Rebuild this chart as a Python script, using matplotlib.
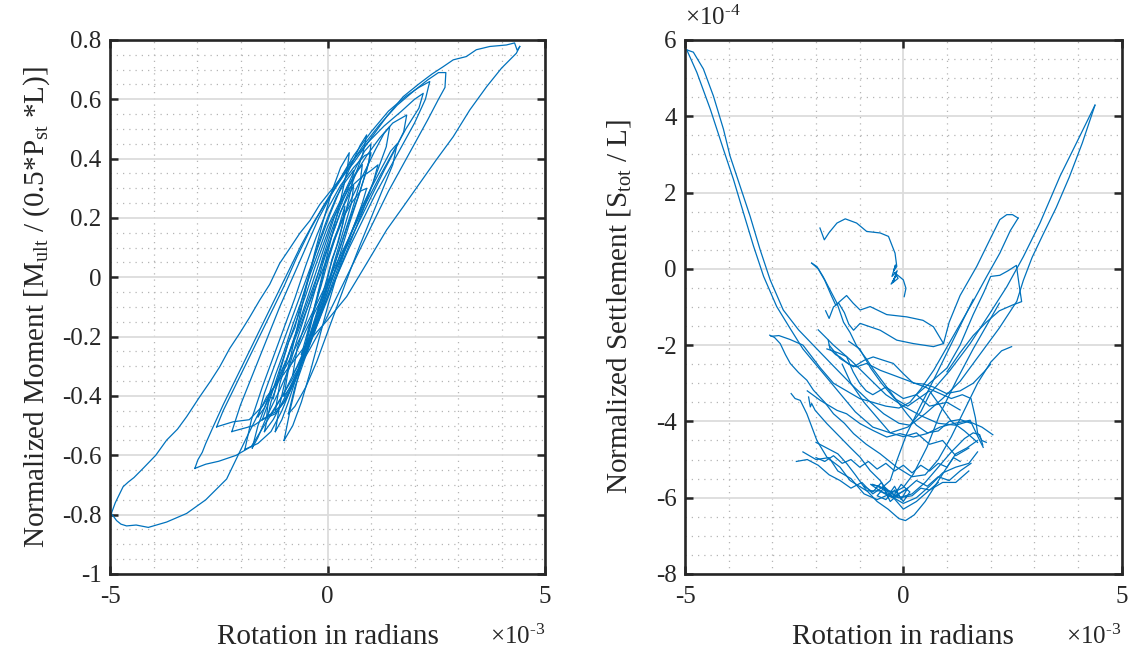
import matplotlib
matplotlib.use("Agg")
import matplotlib.pyplot as plt

# rotation values are in units of 1e-3 rad, settlement values in units of 1e-4
BLUE = "#0072BD"

# ---------------- left plot: normalized moment vs rotation ----------------
rot_outer_up = [-4.97, -4.88, -4.70, -4.58, -4.45, -4.24, -3.95, -3.70, -3.45, -3.24, -2.94, -2.70, -2.48,
                -2.25, -2.02, -1.80, -1.56, -1.33, -1.10, -0.87, -0.64, -0.40, -0.18, 0.21, 0.59, 0.97, 1.36,
                1.74, 2.12, 2.40, 2.66, 2.89, 3.19, 3.42, 3.73, 4.11, 4.30, 4.36, 4.42]
mom_outer_up = [-0.796, -0.76, -0.706, -0.690, -0.675, -0.644, -0.600, -0.549, -0.512, -0.470, -0.403, -0.352,
                -0.302, -0.240, -0.189, -0.137, -0.077, -0.024, 0.047, 0.097, 0.148, 0.192, 0.245, 0.317, 0.384,
                0.463, 0.542, 0.609, 0.654, 0.685, 0.710, 0.733, 0.744, 0.767, 0.778, 0.783, 0.790, 0.765, 0.778]

rot_outer_dn = [4.42, 4.34, 4.00, 3.66, 3.27, 2.89, 2.50, 2.12, 1.74, 1.36, 0.90, 0.44, 0.00, -0.41, -0.94,
                -1.40, -1.86, -2.32, -2.80, -3.24, -3.70, -4.12, -4.40, -4.62, -4.75, -4.85, -4.97]
mom_outer_dn = [0.778, 0.755, 0.705, 0.643, 0.564, 0.474, 0.396, 0.317, 0.238, 0.160, 0.047, -0.065, -0.144,
                -0.211, -0.313, -0.403, -0.540, -0.680, -0.750, -0.796, -0.825, -0.843, -0.835, -0.838, -0.832,
                -0.820, -0.796]

rot_loop2 = [-3.05, -2.98, -2.94, -2.88, -2.80, -2.63, -2.40, -2.10, -1.80, -1.50, -1.20, -0.90, -0.60, -0.30,
             0.00, 0.40, 0.80, 1.20, 1.60, 2.00, 2.30, 2.55, 2.72, 2.70, 2.55, 2.30, 2.00, 1.70, 1.40, 1.10,
             0.80, 0.50, 0.20, -0.10, -0.40, -0.80, -1.20, -1.50, -1.75, -2.10, -2.50, -2.80, -3.05]
mom_loop2 = [-0.644, -0.615, -0.605, -0.590, -0.560, -0.504, -0.430, -0.340, -0.250, -0.160, -0.070, 0.020,
             0.110, 0.190, 0.260, 0.350, 0.440, 0.515, 0.580, 0.630, 0.665, 0.690, 0.690, 0.640, 0.600, 0.530,
             0.450, 0.370, 0.290, 0.200, 0.110, 0.020, -0.070, -0.160, -0.240, -0.340, -0.440, -0.510, -0.570,
             -0.600, -0.620, -0.630, -0.644]

rot_loop3 = [-2.55, -2.40, -2.20, -1.90, -1.60, -1.30, -1.00, -0.70, -0.40, -0.10, 0.20, 0.50, 0.90, 1.30,
             1.70, 2.00, 2.20, 2.10, 1.80, 1.50, 1.20, 0.90, 0.60, 0.30, 0.00, -0.30, -0.60, -0.90, -1.20,
             -1.50, -1.80, -2.17, -2.55]
mom_loop3 = [-0.504, -0.450, -0.390, -0.300, -0.210, -0.120, -0.030, 0.070, 0.160, 0.240, 0.310, 0.380, 0.450,
             0.510, 0.560, 0.600, 0.620, 0.570, 0.500, 0.420, 0.340, 0.255, 0.165, 0.075, -0.015, -0.105,
             -0.195, -0.285, -0.365, -0.435, -0.480, -0.487, -0.504]

rot_loop4 = [-1.73, -1.60, -1.40, -1.20, -1.00, -0.80, -0.60, -0.40, -0.20, 0.00, 0.30, 0.60, 0.90, 1.20, 1.50,
             1.82, 1.75, 1.55, 1.30, 1.00, 0.70, 0.40, 0.10, -0.20, -0.50, -0.80, -1.10, -1.40, -1.60, -1.73]
mom_loop4 = [-0.575, -0.500, -0.420, -0.330, -0.250, -0.160, -0.080, 0.010, 0.090, 0.170, 0.260, 0.340, 0.410,
             0.470, 0.520, 0.547, 0.490, 0.430, 0.360, 0.270, 0.180, 0.090, 0.000, -0.090, -0.180, -0.280,
             -0.380, -0.470, -0.540, -0.575]

rot_loop5 = [-1.50, -1.30, -1.10, -0.90, -0.70, -0.50, -0.30, -0.10, 0.10, 0.30, 0.50, 0.80, 1.00, 1.16, 1.05,
             0.85, 0.60, 0.40, 0.20, 0.00, -0.20, -0.40, -0.60, -0.80, -1.00, -1.20, -1.50]
mom_loop5 = [-0.480, -0.400, -0.310, -0.220, -0.140, -0.060, 0.030, 0.110, 0.190, 0.250, 0.300, 0.340, 0.360,
             0.379, 0.320, 0.250, 0.170, 0.100, 0.030, -0.050, -0.130, -0.210, -0.290, -0.360, -0.420, -0.460,
             -0.480]

rot_loop6 = [-1.45, -1.30, -1.00, -0.70, -0.40, -0.10, 0.20, 0.50, 0.80, 1.10, 1.30, 1.43, 1.35, 1.10, 0.80,
             0.50, 0.20, -0.10, -0.40, -0.70, -1.00, -1.25, -1.45]
mom_loop6 = [-0.520, -0.420, -0.300, -0.190, -0.080, 0.030, 0.140, 0.250, 0.340, 0.430, 0.485, 0.508, 0.440,
             0.340, 0.220, 0.110, 0.000, -0.110, -0.220, -0.320, -0.410, -0.480, -0.520]

rot_loop7 = [-1.20, -1.10, -0.85, -0.60, -0.35, -0.10, 0.15, 0.40, 0.65, 0.85, 1.00, 0.95, 0.75, 0.50, 0.25,
             0.00, -0.25, -0.50, -0.75, -1.00, -1.20]
mom_loop7 = [-0.450, -0.360, -0.240, -0.130, -0.020, 0.090, 0.200, 0.290, 0.370, 0.425, 0.450, 0.390, 0.290,
             0.180, 0.060, -0.050, -0.160, -0.260, -0.350, -0.420, -0.450]

rot_loop8 = [-1.00, -0.90, -0.70, -0.50, -0.30, -0.10, 0.10, 0.30, 0.50, 0.70, 0.80, 0.75, 0.55, 0.35, 0.15,
             -0.05, -0.25, -0.45, -0.65, -0.85, -1.00]
mom_loop8 = [-0.400, -0.310, -0.210, -0.120, -0.030, 0.070, 0.160, 0.240, 0.310, 0.360, 0.380, 0.320, 0.220,
             0.130, 0.040, -0.060, -0.150, -0.240, -0.310, -0.370, -0.400]

rot_loop9 = [-0.80, -0.70, -0.50, -0.30, -0.10, 0.10, 0.30, 0.50, 0.60, 0.55, 0.35, 0.15, -0.05, -0.25, -0.45,
             -0.65, -0.80]
mom_loop9 = [-0.330, -0.240, -0.150, -0.050, 0.050, 0.140, 0.220, 0.280, 0.310, 0.250, 0.150, 0.050, -0.050,
             -0.140, -0.220, -0.290, -0.330]

rot_loop10 = [-1.60, -1.45, -1.20, -0.95, -0.70, -0.45, -0.20, 0.05, 0.30, 0.55, 0.75, 0.90, 0.80, 0.55, 0.30,
              0.05, -0.20, -0.45, -0.70, -0.95, -1.20, -1.45, -1.60]
mom_loop10 = [-0.470, -0.390, -0.290, -0.190, -0.090, 0.010, 0.110, 0.210, 0.300, 0.380, 0.445, 0.480, 0.410,
              0.310, 0.220, 0.120, 0.020, -0.080, -0.180, -0.280, -0.360, -0.440, -0.470]

rot_loop11 = [-0.90, -0.75, -0.50, -0.25, 0.00, 0.25, 0.50, 0.75, 1.00, 1.25, 1.45, 1.60, 1.50, 1.25, 1.00,
              0.75, 0.50, 0.25, 0.00, -0.25, -0.50, -0.75, -0.90]
mom_loop11 = [-0.460, -0.370, -0.265, -0.165, -0.065, 0.035, 0.135, 0.225, 0.300, 0.370, 0.425, 0.450, 0.380,
              0.290, 0.200, 0.110, 0.015, -0.085, -0.185, -0.285, -0.370, -0.435, -0.460]

rot_loop12 = [-0.60, -0.45, -0.30, -0.15, 0.00, 0.15, 0.30, 0.40, 0.35, 0.20, 0.05, -0.10, -0.25, -0.40,
              -0.52, -0.60]
mom_loop12 = [-0.260, -0.180, -0.100, -0.030, 0.050, 0.120, 0.190, 0.240, 0.180, 0.100, 0.030, -0.050, -0.120,
              -0.190, -0.240, -0.260]

rot_loop13 = [-1.90, -1.75, -1.50, -1.25, -1.00, -0.75, -0.50, -0.25, 0.00, 0.30, 0.60, 0.85, 1.00, 0.90, 0.70,
              0.45, 0.20, -0.05, -0.30, -0.55, -0.80, -1.05, -1.30, -1.60, -1.90]
mom_loop13 = [-0.580, -0.480, -0.370, -0.270, -0.170, -0.070, 0.040, 0.140, 0.230, 0.310, 0.370, 0.410, 0.420,
              0.360, 0.270, 0.170, 0.060, -0.050, -0.150, -0.260, -0.360, -0.450, -0.520, -0.560, -0.580]

rot_loop14 = [-1.40, -1.35, -1.25, -1.10, -0.90, -0.75, -0.60, -0.40, -0.20, 0.00, 0.20, 0.40, 0.60, 0.55, 0.40,
              0.25, 0.10, -0.05, -0.20, -0.35, -0.55, -0.75, -0.95, -1.15, -1.40]
mom_loop14 = [-0.470, -0.400, -0.410, -0.320, -0.220, -0.170, -0.080, 0.020, 0.120, 0.200, 0.270, 0.320, 0.360,
              0.300, 0.210, 0.120, 0.060, -0.040, -0.100, -0.190, -0.270, -0.350, -0.410, -0.450, -0.470]

rot_loop15 = [-1.20, -1.10, -0.90, -0.70, -0.50, -0.30, -0.10, 0.10, 0.30, 0.50, 0.45, 0.30, 0.10, -0.10,
              -0.30, -0.50, -0.70, -0.90, -1.05, -1.20]
mom_loop15 = [-0.520, -0.430, -0.300, -0.170, -0.040, 0.080, 0.190, 0.290, 0.370, 0.420, 0.360, 0.260, 0.140,
              0.020, -0.100, -0.220, -0.330, -0.420, -0.480, -0.520]

rot_loop16 = [-1.00, -0.85, -0.65, -0.45, -0.25, -0.05, 0.15, 0.35, 0.55, 0.75, 0.90, 0.80, 0.60, 0.40, 0.20,
              0.00, -0.20, -0.40, -0.60, -0.80, -1.00]
mom_loop16 = [-0.550, -0.440, -0.320, -0.200, -0.080, 0.040, 0.130, 0.200, 0.250, 0.290, 0.300, 0.250, 0.170,
              0.090, 0.000, -0.100, -0.210, -0.320, -0.420, -0.500, -0.550]

rot_loop17 = [-2.20, -2.00, -1.70, -1.40, -1.10, -0.80, -0.50, -0.20, 0.20, 0.60, 1.00, 1.40, 1.80, 2.10, 2.35,
              2.25, 2.00, 1.70, 1.40, 1.10, 0.80, 0.50, 0.20, -0.10, -0.40, -0.70, -1.00, -1.30, -1.70, -2.20]
mom_loop17 = [-0.520, -0.430, -0.320, -0.210, -0.100, 0.000, 0.100, 0.200, 0.310, 0.410, 0.490, 0.560, 0.610,
              0.640, 0.660, 0.600, 0.520, 0.440, 0.360, 0.280, 0.190, 0.100, 0.000, -0.100, -0.200, -0.300,
              -0.390, -0.460, -0.500, -0.520]

# ---------------- right plot: normalized settlement vs rotation ----------------
set_x1 = [-4.96, -4.81, -4.58, -4.35, -4.12, -3.97, -3.74, -3.51, -3.28, -3.05, -2.75, -2.40, -2.03, -1.60,
          -1.19, -0.80, -0.45, -0.10, 0.15, 0.40, 0.61, 1.07, 1.53, 1.98, 2.37, 2.75, 3.13, 3.59, 3.97, 4.39]
set_y1 = [5.74, 5.68, 5.24, 4.53, 3.66, 2.96, 2.17, 1.38, 0.50, -0.29, -1.08, -1.60, -2.04, -2.55, -3.03,
          -3.45, -3.80, -4.05, -4.10, -3.75, -3.27, -2.66, -1.96, -1.17, -0.47, 0.32, 1.20, 2.43, 3.31, 4.29]

set_x2 = [4.39, 4.10, 3.80, 3.50, 3.20, 2.95, 2.75, 2.60, 2.20, 1.75, 1.30, 0.90, 0.50, 0.10, -0.30, -0.70,
          -1.10, -1.50, -1.90, -2.30, -2.60, -2.90, -3.20, -3.43, -3.66, -3.89, -4.12, -4.42, -4.73, -4.96]
set_y2 = [4.29, 3.30, 2.40, 1.60, 0.90, 0.30, -0.30, -0.85, -1.55, -2.25, -2.95, -3.40, -3.80, -4.15, -4.30,
          -4.15, -3.75, -3.20, -2.65, -2.10, -1.55, -0.99, -0.20, 0.59, 1.46, 2.34, 3.13, 4.18, 5.15, 5.74]

set_x3 = [-2.10, -1.98, -1.84, -1.68, -1.52, -1.37, -1.22, -1.07, -0.84, -0.69, -0.38, -0.15, 0.08, 0.30, 0.55,
          0.80, 1.05, 1.30, 1.55]
set_y3 = [0.15, 0.06, -0.20, -0.55, -0.90, -1.40, -1.67, -2.02, -2.37, -2.63, -3.10, -3.45, -3.80, -4.10,
          -4.30, -4.25, -4.00, -3.95, -4.05]

set_x4 = [-2.10, -1.95, -1.80, -1.65, -1.55, -1.45, -1.30, -1.15, -0.99, -0.76, -0.38, 0.08, 0.45, 0.69, 0.92,
          1.05, 1.30, 1.68, 1.98, 2.21, 2.37, 2.50, 2.63]
set_y4 = [0.15, 0.00, -0.30, -0.70, -0.95, -0.85, -0.70, -0.90, -1.08, -0.99, -1.20, -1.26, -1.35, -1.52,
          -1.96, -1.40, -0.70, 0.06, 0.76, 1.29, 1.42, 1.42, 1.33]

set_x5 = [2.63, 2.45, 2.21, 1.91, 1.60, 1.30, 1.00, 0.70, 0.40, 0.15, -0.10, -0.40, -0.70, -1.00, -1.30,
          -1.60, -1.90, -2.30, -2.60, -2.85, -3.03]
set_y5 = [1.33, 1.00, 0.41, -0.20, -0.85, -1.45, -2.05, -2.65, -3.15, -3.50, -3.65, -3.60, -3.50, -3.40,
          -3.20, -3.00, -2.60, -2.00, -1.85, -1.75, -1.77]

set_x6 = [-3.06, -2.95, -2.82, -2.70, -2.59, -2.40, -2.21, -2.06, -1.80, -1.60, -1.35, -1.14, -0.85, -0.53,
          -0.15, 0.20, 0.50, 0.80, 1.10, 1.40, 1.70, 2.00, 2.25, 2.48]
set_y6 = [-1.74, -1.80, -1.96, -2.25, -2.48, -2.72, -2.92, -3.18, -3.50, -3.80, -4.05, -4.32, -4.60, -4.85,
          -5.20, -5.45, -5.40, -5.00, -4.40, -3.70, -3.00, -2.45, -2.15, -2.04]

set_x7 = [-2.57, -2.48, -2.36, -2.21, -1.98, -1.75, -1.45, -1.22, -0.84, -0.53, -0.30, -0.10, 0.20, 0.50,
          0.80, 1.10, 1.40, 1.60, 1.75, 1.82]
set_y7 = [-3.27, -3.40, -3.45, -3.80, -4.50, -4.94, -5.20, -5.55, -5.82, -5.82, -5.95, -6.00, -5.90, -5.60,
          -5.20, -4.80, -4.45, -4.30, -4.35, -4.62]

set_x8 = [-2.17, -2.13, -2.10, -2.02, -1.75, -1.45, -1.22, -0.99, -0.76, -0.53, -0.30, 0.00, 0.30, 0.60,
          0.90, 1.20, 1.50, 1.70]
set_y8 = [-3.36, -3.62, -3.53, -3.71, -4.06, -4.41, -4.68, -4.94, -5.29, -5.55, -5.95, -6.15, -6.00, -5.70,
          -5.35, -5.20, -5.10, -4.80]

set_x9 = [-2.00, -1.75, -1.50, -1.30, -1.10, -0.85, -0.60, -0.35, -0.10, 0.05, 0.25, 0.50, 0.75, 1.00, 1.20,
          1.45, 1.70]
set_y9 = [-4.55, -4.70, -4.85, -5.10, -5.40, -5.80, -6.10, -6.30, -6.55, -6.60, -6.45, -6.10, -5.65, -5.20,
          -4.85, -4.70, -4.50]

set_x10 = [-1.78, -1.70, -1.60, -1.48, -1.35, -1.25, -1.14, -0.99, -0.53, -0.15, 0.23, 0.69, 0.92]
set_y10 = [-1.10, -1.30, -1.00, -0.90, -1.15, -1.45, -1.61, -1.43, -1.61, -1.87, -1.96, -2.04, -1.96]

set_x11 = [-1.72, -1.68, -1.55, -1.45, -1.25, -1.07, -0.84, -0.53, -0.20, 0.15, 0.50, 0.80, 1.10, 1.35, 1.55,
           1.65, 1.70, 1.80, 1.90]
set_y11 = [-1.87, -2.10, -2.25, -2.31, -2.50, -2.57, -2.48, -2.66, -2.80, -2.95, -3.10, -3.25, -3.40, -3.30,
           -3.40, -3.90, -4.30, -4.50, -4.55]

set_x12 = [-2.00, -1.80, -1.60, -1.40, -1.20, -1.00, -0.80, -0.60, -0.40, -0.20, 0.00, 0.20, 0.40, 0.60, 0.80,
           1.00, 1.15, 1.30]
set_y12 = [-4.95, -5.05, -4.90, -5.10, -5.00, -5.20, -5.05, -5.25, -5.10, -5.30, -5.15, -5.35, -5.15, -5.30,
           -5.10, -5.20, -4.95, -5.05]

set_x13 = [-1.95, -1.60, -1.20, -0.80, -0.40, 0.00, 0.40, 0.80, 1.20, 1.50, 1.80, 2.05]
set_y13 = [-1.60, -2.00, -2.40, -2.85, -3.30, -3.60, -3.85, -4.05, -4.10, -4.00, -4.15, -4.35]

set_x14 = [0.30, 0.60, 1.00, 1.30, 1.60, 1.85, 2.00, 2.21, 2.40, 2.59, 2.65, 2.71, 2.50, 2.20, 1.90, 1.60,
           1.30, 1.00]
set_y14 = [-3.30, -3.00, -2.60, -2.00, -1.20, -0.60, -0.20, -0.17, -0.05, 0.09, -0.40, -0.86, -0.95, -1.10,
           -1.40, -1.75, -2.20, -2.70]

set_x15 = [-0.90, -0.70, -0.50, -0.35, -0.20, -0.05, 0.10, -0.10, -0.30, -0.45, -0.60, -0.40, -0.20, 0.00,
           0.15, -0.05, -0.25, -0.50, -0.75, -0.55, -0.30, -0.10, 0.20, 0.40, 0.60, 0.80]
set_y15 = [-5.70, -5.85, -5.60, -5.95, -5.70, -6.05, -5.75, -5.90, -6.10, -5.75, -5.95, -6.05, -5.80, -6.10,
           -5.85, -5.65, -6.00, -5.85, -5.65, -5.70, -5.85, -6.00, -5.95, -5.75, -5.80, -5.60]

set_x16 = [-1.91, -1.81, -1.70, -1.52, -1.33, -1.07, -0.84, -0.53, -0.34, -0.19, -0.15, -0.22, -0.18, -0.26,
           -0.14, -0.24, -0.16, -0.28, -0.12, -0.20, 0.00, 0.06, 0.02]
set_y16 = [1.07, 0.76, 0.95, 1.20, 1.31, 1.20, 0.98, 0.94, 0.85, 0.41, 0.06, -0.05, 0.10, -0.20, -0.05, -0.35,
           -0.15, -0.40, -0.25, -0.10, -0.29, -0.51, -0.73]

set_x17 = [-2.20, -1.90, -1.52, -1.30, -0.99, -0.69, -0.38, -0.08, 0.23, 0.54, 0.84, 1.14, 1.53, 1.75, 1.83]
set_y17 = [-3.20, -3.45, -3.71, -3.80, -4.06, -4.24, -4.41, -4.32, -4.41, -4.32, -4.15, -4.06, -3.97, -4.50,
           -4.68]

set_x18 = [2.20, 1.90, 1.60, 1.22, 0.84, 0.54, 0.23, 0.00, -0.20, -0.45]
set_y18 = [-0.90, -1.50, -2.10, -2.92, -3.80, -4.68, -5.38, -5.73, -5.85, -5.80]

set_x19 = [1.60, 1.30, 1.00, 0.69, 0.38, 0.08, -0.15, -0.30, -0.50, -0.70]
set_y19 = [-0.80, -1.50, -2.20, -2.92, -3.62, -4.32, -5.03, -5.55, -5.75, -5.65]

set_x20 = [-1.70, -1.45, -1.14, -0.90, -0.69, -0.45, -0.23, 0.00, 0.23, 0.45, 0.69, 0.99, 1.30, 1.60, 1.85, 2.00]
set_y20 = [-2.00, -2.35, -2.57, -2.40, -2.31, -2.40, -2.48, -2.75, -3.00, -3.02, -3.10, -3.27, -3.20, -3.00,
           -2.70, -2.50]

set_x21 = [-2.45, -2.20, -1.95, -1.70, -1.45, -1.20, -0.95, -0.70, -0.45, -0.20, 0.05, 0.30, 0.55, 0.80, 1.05,
           1.30, 1.55]
set_y21 = [-5.05, -5.00, -5.15, -5.40, -5.55, -5.75, -5.60, -5.90, -5.70, -5.95, -5.80, -5.55, -5.70, -5.45,
           -5.55, -5.30, -5.10]

set_x22 = [-1.75, -1.50, -1.30, -1.15, -1.00, -0.85, -0.70, -0.55, -0.40, -0.20, 0.00, 0.15, 0.30, 0.45, 0.60,
           0.80, 1.00, 1.15, 1.30]
set_y22 = [-2.10, -2.20, -2.30, -2.70, -3.00, -3.20, -3.30, -3.20, -3.10, -3.25, -3.40, -3.35, -3.30, -3.45,
           -3.60, -3.55, -3.50, -3.60, -3.70]

set_x23 = [-1.25, -1.00, -0.75, -0.50, -0.20, 0.10, 0.35, 0.60, 0.85, 1.10, 1.40, 1.70]
set_y23 = [-1.90, -2.10, -2.60, -3.00, -3.40, -3.60, -3.40, -3.20, -3.60, -4.00, -4.25, -4.55]

set_x24 = [-1.40, -1.20, -0.90, -0.60, -0.30, 0.00, 0.30, 0.60, 0.90, 1.20, 1.50]
set_y24 = [-2.50, -3.00, -3.50, -3.90, -4.30, -4.40, -4.30, -4.60, -4.50, -4.90, -4.70]

set_x25 = [-2.30, -2.00, -1.70, -1.50, -1.20, -0.90, -0.60, -0.30, 0.00, 0.30, 0.60, 0.90, 1.20, 1.50]
set_y25 = [-4.80, -5.00, -4.95, -5.30, -5.50, -5.90, -6.05, -5.90, -6.30, -6.10, -5.80, -5.60, -5.60, -5.30]

# ticks
rot_ticks = [-5, 0, 5]
rot_tick_labels = ["-5", "0", "5"]
mom_ticks = [-1, -0.8, -0.6, -0.4, -0.2, 0, 0.2, 0.4, 0.6, 0.8]
mom_tick_labels = ["-1", "-0.8", "-0.6", "-0.4", "-0.2", "0", "0.2", "0.4", "0.6", "0.8"]
set_ticks = [-8, -6, -4, -2, 0, 2, 4, 6]
set_tick_labels = ["-8", "-6", "-4", "-2", "0", "2", "4", "6"]


def style_axes(ax, yminor_step, ylo, yhi):
    ax.set_xlim(-5, 5)
    ax.set_ylim(ylo, yhi)
    ax.set_axisbelow(True)
    xm = [v for v in range(-5, 6)]
    ym = []
    v = ylo
    while v <= yhi + 1e-9:
        ym.append(round(v, 4))
        v += yminor_step
    ax.set_xticks(xm, minor=True)
    ax.set_yticks(ym, minor=True)
    ax.grid(which="major", color="#dcdcdc", linewidth=1.3, linestyle="-")
    ax.grid(which="minor", color="#b5b5b5", linewidth=0.9, linestyle=(0, (1, 4)))
    ax.tick_params(which="minor", length=0)
    ax.tick_params(which="major", direction="in", length=6, width=1.8, color="#262626",
                   top=True, right=True, labelsize=18, labelcolor="#262626")
    ax.tick_params(axis="x", pad=9)
    ax.tick_params(axis="y", pad=6)
    for s in ax.spines.values():
        s.set_linewidth(1.9)
        s.set_color("#262626")


def main():
    plt.rcParams["font.family"] = "Liberation Serif"
    plt.rcParams["mathtext.fontset"] = "custom"
    plt.rcParams["mathtext.rm"] = "Liberation Serif"
    plt.rcParams["mathtext.it"] = "Liberation Serif:italic"
    plt.rcParams["axes.unicode_minus"] = False

    fig = plt.figure(figsize=(11.31, 6.55), dpi=100)
    ax1 = fig.add_axes([0.0973, 0.1237, 0.3846, 0.8153])
    ax2 = fig.add_axes([0.6057, 0.1237, 0.386, 0.8153])

    moment_traces = [
        (rot_outer_up, mom_outer_up), (rot_outer_dn, mom_outer_dn), (rot_loop2, mom_loop2),
        (rot_loop3, mom_loop3), (rot_loop4, mom_loop4), (rot_loop5, mom_loop5), (rot_loop6, mom_loop6),
        (rot_loop7, mom_loop7), (rot_loop8, mom_loop8), (rot_loop9, mom_loop9), (rot_loop10, mom_loop10),
        (rot_loop11, mom_loop11), (rot_loop12, mom_loop12), (rot_loop13, mom_loop13), (rot_loop14, mom_loop14),
        (rot_loop15, mom_loop15), (rot_loop16, mom_loop16), (rot_loop17, mom_loop17),
    ]
    for xs, ys in moment_traces:
        ax1.plot(xs, ys, color=BLUE, linewidth=0.9)

    settle_traces = [
        (set_x1, set_y1), (set_x2, set_y2), (set_x3, set_y3), (set_x4, set_y4), (set_x5, set_y5),
        (set_x6, set_y6), (set_x7, set_y7), (set_x8, set_y8), (set_x9, set_y9), (set_x10, set_y10),
        (set_x11, set_y11), (set_x12, set_y12), (set_x13, set_y13), (set_x14, set_y14), (set_x15, set_y15),
        (set_x16, set_y16), (set_x17, set_y17), (set_x18, set_y18), (set_x19, set_y19), (set_x20, set_y20),
        (set_x21, set_y21), (set_x22, set_y22), (set_x23, set_y23), (set_x24, set_y24), (set_x25, set_y25),
    ]
    for xs, ys in settle_traces:
        ax2.plot(xs, ys, color=BLUE, linewidth=0.9)

    style_axes(ax1, 0.05, -1, 0.8)
    style_axes(ax2, 0.5, -8, 6)

    ax1.set_xticks(rot_ticks, rot_tick_labels)
    ax1.set_yticks(mom_ticks, mom_tick_labels)
    ax2.set_xticks(rot_ticks, rot_tick_labels)
    ax2.set_yticks(set_ticks, set_tick_labels)

    lab = dict(fontsize=21, color="#262626")
    ax1.set_xlabel("Rotation in radians", va="center", **lab)
    ax1.set_ylabel(r"Normalized Moment [M$_{\mathrm{ult}}$ / (0.5*P$_{\mathrm{st}}$ *L)]", va="center", **lab)
    ax2.set_xlabel("Rotation in radians", va="center", **lab)
    ax2.set_ylabel(r"Normalized Settlement [S$_{\mathrm{tot}}$ / L]", va="center", **lab)
    ax1.xaxis.set_label_coords(0.5, -0.118)
    ax2.xaxis.set_label_coords(0.5, -0.118)
    ax1.yaxis.set_label_coords(-0.168, 0.5)
    ax2.yaxis.set_label_coords(-0.151, 0.5)

    # exponent labels, MATLAB style with a plain hyphen
    mult = dict(fontsize=18, color="#262626", va="center")
    fig.text(0.482, 0.027, r"$\times\mathrm{10}^{\text{-3}}$", ha="right", **mult)
    fig.text(0.991, 0.027, r"$\times\mathrm{10}^{\text{-3}}$", ha="right", **mult)
    fig.text(0.606, 0.972, r"$\times\mathrm{10}^{\text{-4}}$", ha="left", **mult)

    fig.savefig("out.png", dpi=100)


if __name__ == "__main__":
    main()
